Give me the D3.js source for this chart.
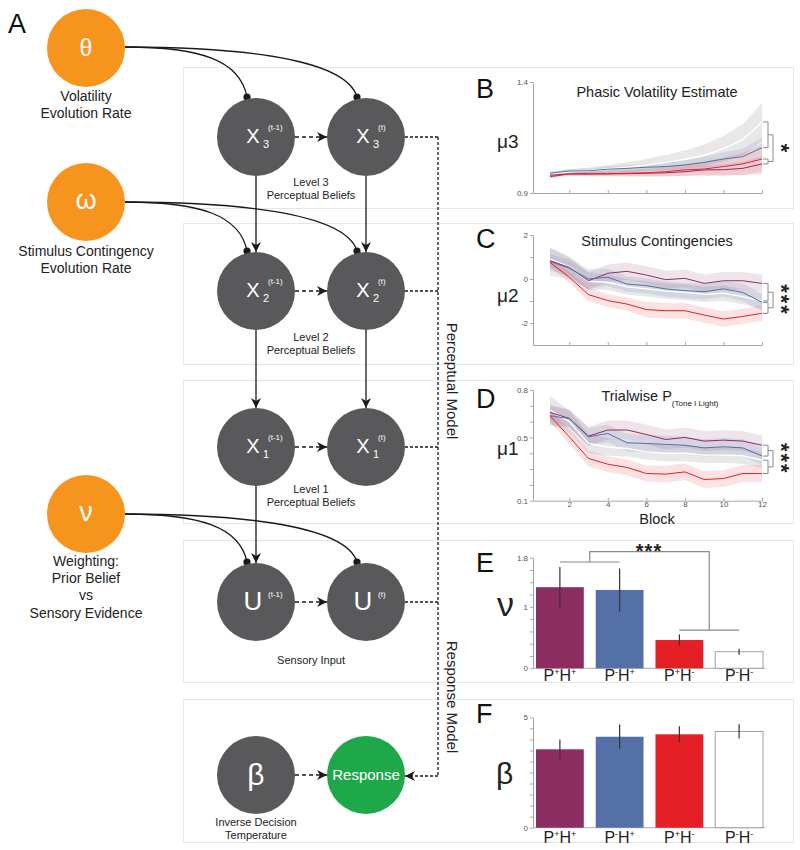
<!DOCTYPE html>
<html><head><meta charset="utf-8">
<script src="https://cdn.jsdelivr.net/npm/d3@7"></script>
<style>
body{margin:0;background:#fff}
svg{display:block}
text{font-family:"Liberation Sans",Arial,Helvetica,sans-serif}
</style>
</head><body>
<svg id="fig" width="800" height="850"></svg>
<script>
// ================= DATA =================
const blocks = [1,2,3,4,5,6,7,8,9,10,11,12];
const groups = ["P+H+","P-H+","P+H-","P-H-"];
const groupColors = ["#8c2d62","#5570a7","#e41f26","#ffffff"];
const bandColors  = ["#8c2d62","#5570a7","#e41f26","#b9b9b9"];
const bandOpacity = [0.13,0.15,0.13,0.32];

// Panel B: phasic volatility estimate (mu3)
const muB_PpHp = [0.980,0.986,0.986,0.986,0.987,0.989,0.991,0.996,1.004,1.005,1.011,1.031];
const muB_PmHp = [0.989,0.999,1.000,1.007,1.011,1.016,1.019,1.026,1.038,1.053,1.064,1.104];
const muB_PpHm = [0.973,0.986,0.986,0.987,0.989,0.991,0.996,1.004,1.008,1.019,1.031,1.053];
const muB_PmHm = [0.985,0.995,1.000,1.008,1.016,1.026,1.038,1.052,1.070,1.100,1.140,1.220];
const seB_PpHp = [0.008,0.008,0.009,0.010,0.012,0.014,0.016,0.018,0.021,0.025,0.030,0.035];
const seB_PmHp = [0.008,0.008,0.010,0.012,0.014,0.016,0.018,0.021,0.025,0.030,0.035,0.045];
const seB_PpHm = [0.008,0.008,0.010,0.012,0.015,0.018,0.022,0.027,0.033,0.040,0.050,0.070];
const seB_PmHm = [0.010,0.012,0.015,0.018,0.022,0.027,0.033,0.040,0.048,0.058,0.070,0.085];

// Panel C: stimulus contingencies (mu2)
const muC_PpHp = [0.83,0.53,-0.08,0.26,0.35,0.18,-0.03,0.03,-0.20,-0.08,-0.08,-0.20];
const muC_PmHp = [0.80,0.49,0.00,0.08,-0.23,-0.30,-0.45,-0.53,-0.58,-0.45,-0.61,-1.06];
const muC_PpHm = [0.76,0.08,-0.71,-0.98,-1.14,-1.39,-1.44,-1.44,-1.64,-1.82,-1.70,-1.56];
const muC_PmHm = [0.90,0.55,-0.10,-0.15,-0.35,-0.45,-0.55,-0.60,-0.70,-0.65,-0.80,-1.00];
const seC_PpHp = [0.30,0.35,0.40,0.40,0.40,0.40,0.40,0.40,0.40,0.40,0.40,0.40];
const seC_PmHp = [0.65,0.50,0.45,0.40,0.35,0.35,0.35,0.35,0.35,0.35,0.40,0.40];
const seC_PpHm = [0.20,0.25,0.30,0.30,0.30,0.35,0.35,0.35,0.35,0.35,0.35,0.35];
const seC_PmHm = [0.50,0.45,0.40,0.35,0.35,0.35,0.35,0.35,0.35,0.35,0.35,0.35];

// Panel D: trialwise P(Tone | Light) (mu1)
const muD_PpHp = [0.659,0.620,0.508,0.547,0.547,0.519,0.487,0.500,0.477,0.483,0.477,0.451];
const muD_PmHp = [0.637,0.620,0.504,0.525,0.466,0.462,0.456,0.451,0.434,0.441,0.434,0.382];
const muD_PpHm = [0.637,0.504,0.367,0.331,0.310,0.272,0.268,0.282,0.234,0.240,0.272,0.272];
const muD_PmHm = [0.673,0.600,0.462,0.440,0.430,0.409,0.400,0.400,0.388,0.388,0.384,0.356];
const seD_PpHp = [0.050,0.055,0.060,0.060,0.060,0.063,0.063,0.063,0.063,0.063,0.063,0.063];
const seD_PmHp = [0.060,0.055,0.055,0.055,0.055,0.055,0.055,0.055,0.055,0.055,0.055,0.055];
const seD_PpHm = [0.040,0.045,0.050,0.050,0.050,0.050,0.053,0.053,0.053,0.053,0.053,0.053];
const seD_PmHm = [0.090,0.070,0.060,0.055,0.050,0.050,0.050,0.050,0.050,0.050,0.050,0.050];

// Panel E: nu (weighting)
const nuMean = [1.32,1.275,0.46,0.27];
const nuSE   = [0.33,0.35,0.09,0.05];
const nuBracketLevels = [1.73,1.90,0.62];
// Panel F: beta
const betaMean = [3.55,4.12,4.23,4.36];
const betaSE   = [0.44,0.55,0.36,0.32];

// Tick values / labels
const xTicksBlock = [2,4,6,8,10,12];
const yTicksB = [0.9,1.4];            const yLabelsB = ["0.9","1.4"];
const yTicksC = [-2,-1,0,1,2];        const yLabelsC = ["-2","0","2"];
const yTicksD = [0.1,0.2,0.3,0.4,0.5,0.6,0.7,0.8]; const yLabelsD = ["0.1","0.5","0.8"];
const yTicksE = [0,0.2,0.4,0.6,0.8,1,1.2,1.4,1.6,1.8]; const yLabelsE = ["0","1","1.8"];
const yTicksF = [0,0.5,1,1.5,2,2.5,3,3.5,4,4.5,5]; const yLabelsF = ["0","5"];

// ================= DRAW =================
const svg = d3.select("#fig");
const defs = svg.append("defs");
defs.append("marker").attr("id","arr").attr("viewBox","0 0 10 10")
  .attr("refX",10).attr("refY",5).attr("markerWidth",11).attr("markerHeight",10)
  .attr("markerUnits","userSpaceOnUse").attr("orient","auto")
  .append("path").attr("d","M0,0 L10,5 L0,10 L3,5 Z").attr("fill","#1a1a1a");

// panel boxes
const boxes = [[67,208],[223,364],[380,523],[540,682],[699,842]];
svg.append("g").selectAll("rect").data(boxes).join("rect")
  .attr("x",183.5).attr("y",d=>d[0]+0.5).attr("width",610).attr("height",d=>d[1]-d[0])
  .attr("fill","none").attr("stroke","#e6e6e6").attr("stroke-width",1);

// ---------- Diagram ----------
const R = 39;
const colX = [256,366];
const rowY = {x3:137, x2:291, x1:447, u:602, r:775};
const orangeX = 86;
const orangeY = {theta:48, omega:202, nu:514};
const dark = "#59595b", orange = "#f7941e", green = "#1ea84a";
const dg = svg.append("g");

function influence(sy, ty) {
  const sx = orangeX + R;
  const t1 = colX[0]-9, t2 = colX[1]-9;
  dg.append("path").attr("d",`M${sx},${sy} C${sx+75},${sy} ${t1-7},${sy+13} ${t1},${ty}`)
    .attr("fill","none").attr("stroke","#1a1a1a").attr("stroke-width",1.3);
  dg.append("path").attr("d",`M${sx},${sy} C${sx+95},${sy} ${t2-12},${sy+8} ${t2},${ty}`)
    .attr("fill","none").attr("stroke","#1a1a1a").attr("stroke-width",1.3);
  [t1,t2].forEach(t=>dg.append("circle").attr("cx",t).attr("cy",ty).attr("r",3.6).attr("fill","#1a1a1a"));
}
influence(orangeY.theta-1, rowY.x3-R-1);
influence(orangeY.omega, rowY.x2-R-1);
influence(orangeY.nu, rowY.u-R-1);

const vArrows = [[0,"x3","x2"],[1,"x3","x2"],[0,"x2","x1"],[1,"x2","x1"],[0,"x1","u"]];
vArrows.forEach(([c,a,b])=>{
  dg.append("line").attr("x1",colX[c]).attr("x2",colX[c]).attr("y1",rowY[a]+R).attr("y2",rowY[b]-R)
    .attr("stroke","#1a1a1a").attr("stroke-width",1.3).attr("marker-end","url(#arr)");
});
["x3","x2","x1","u","r"].forEach(k=>{
  dg.append("line").attr("x1",colX[0]+R).attr("x2",colX[1]-R).attr("y1",rowY[k]).attr("y2",rowY[k])
    .attr("stroke","#1a1a1a").attr("stroke-width",1.3).attr("stroke-dasharray","4,3").attr("marker-end","url(#arr)");
});
const mx = 438;
["x3","x2","x1","u"].forEach(k=>{
  dg.append("line").attr("x1",colX[1]+R).attr("x2",mx).attr("y1",rowY[k]).attr("y2",rowY[k])
    .attr("stroke","#1a1a1a").attr("stroke-width",1.3).attr("stroke-dasharray","3,2");
});
dg.append("line").attr("x1",mx).attr("x2",mx).attr("y1",rowY.x3).attr("y2",rowY.r+1)
  .attr("stroke","#1a1a1a").attr("stroke-width",1.3).attr("stroke-dasharray","3,2");
dg.append("line").attr("x1",mx).attr("x2",colX[1]+R).attr("y1",rowY.r+1).attr("y2",rowY.r+1)
  .attr("stroke","#1a1a1a").attr("stroke-width",1.3).attr("stroke-dasharray","3,2").attr("marker-end","url(#arr)");

dg.append("text").attr("transform",`translate(447,381) rotate(90)`).attr("text-anchor","middle")
  .attr("font-size",15).attr("fill","#222").text("Perceptual Model");
dg.append("text").attr("transform",`translate(447,697) rotate(90)`).attr("text-anchor","middle")
  .attr("font-size",15).attr("fill","#222").text("Response Model");

function node(cx,cy,fill){ dg.append("circle").attr("cx",cx).attr("cy",cy).attr("r",R).attr("fill",fill); }
Object.values(orangeY).forEach(y=>node(orangeX,y,orange));
["x3","x2","x1","u"].forEach(k=>colX.forEach(x=>node(x,rowY[k],dark)));
node(colX[0],rowY.r,dark); node(colX[1],rowY.r,green);

function xLabel(cx,cy,main,sub,sup){
  dg.append("text").attr("x",cx-3).attr("y",cy+6).attr("text-anchor","middle").attr("font-size",main==="U"?26:20)
    .attr("fill","#fff").text(main);
  if(sub) dg.append("text").attr("x",cx+7).attr("y",cy+11).attr("text-anchor","start").attr("font-size",11).attr("fill","#fff").text(sub);
  dg.append("text").attr("x",cx+12).attr("y",cy-7).attr("text-anchor","start").attr("font-size",8).attr("fill","#fff").text(sup);
}
[["x3","3"],["x2","2"],["x1","1"]].forEach(([k,s])=>{
  xLabel(colX[0],rowY[k],"X",s,"(t-1)");
  xLabel(colX[1],rowY[k],"X",s,"(t)");
});
xLabel(colX[0],rowY.u+2,"U",null,"(t-1)");
xLabel(colX[1],rowY.u+2,"U",null,"(t)");
dg.append("text").attr("x",colX[0]).attr("y",rowY.r+10).attr("text-anchor","middle").attr("font-size",30).attr("fill","#fff").text("β");
dg.append("text").attr("x",colX[1]).attr("y",rowY.r+5).attr("text-anchor","middle").attr("font-size",15).attr("fill","#fff").text("Response");
dg.append("text").attr("x",orangeX).attr("y",orangeY.theta+8).attr("text-anchor","middle").attr("font-size",23).attr("fill","#fff").text("θ");
dg.append("text").attr("x",orangeX).attr("y",orangeY.omega+7).attr("text-anchor","middle").attr("font-size",27)
  .attr("font-family","'Liberation Serif',serif").attr("fill","#fff").text("ω");
dg.append("text").attr("x",orangeX).attr("y",orangeY.nu+7).attr("text-anchor","middle").attr("font-size",27)
  .attr("font-family","'Liberation Serif',serif").attr("fill","#fff").text("ν");

function lines(x,ys,arr,size){
  arr.forEach((t,i)=>dg.append("text").attr("x",x).attr("y",ys[i]).attr("text-anchor","middle")
    .attr("font-size",size).attr("fill","#222").text(t));
}
lines(orangeX,[101,118],["Volatility","Evolution Rate"],14);
lines(orangeX,[256,273],["Stimulus Contingency","Evolution Rate"],14);
lines(orangeX,[566,583,600,618],["Weighting:","Prior Belief","vs","Sensory Evidence"],14);
lines(311,[186,199],["Level 3","Perceptual Beliefs"],11);
lines(311,[341,354],["Level 2","Perceptual Beliefs"],11);
lines(311,[493,506],["Level 1","Perceptual Beliefs"],11);
lines(311,[664],["Sensory Input"],11);
lines(colX[0],[826,839],["Inverse Decision","Temperature"],11);

[["A",8,33],["B",476,98],["C",476,248],["D",476,408],["E",476,572],["F",476,723]].forEach(([t,x,y])=>{
  svg.append("text").attr("x",x).attr("y",y).attr("font-size",27).attr("fill","#111").text(t);
});

// ---------- Line panels ----------
const xLine = d3.scaleLinear().domain([0.12,12]).range([533,762]);
function styleAxis(g){
  g.selectAll(".domain").attr("stroke","#a8a8a8");
  g.selectAll(".tick line").attr("stroke","#a8a8a8");
  g.selectAll(".tick text").attr("font-size",8).attr("fill","#555")
    .attr("font-family","'Liberation Sans',Arial,sans-serif");
}
function starStack(g, cx, cy, n){
  const fs = 22;
  g.append("text").attr("transform",`translate(${cx - 0.45*fs},${cy}) rotate(90)`)
    .attr("text-anchor","middle").attr("font-size",fs).attr("font-weight","bold")
    .attr("letter-spacing",n>1?2:0).attr("fill","#222").text("*".repeat(n));
}
function linePanel(cfg){
  const y = d3.scaleLinear().domain(cfg.yDomain).range(cfg.yRange);
  const g = svg.append("g");
  const fmtMap = new Map(cfg.yTicks.map(v=>[v,""]));
  cfg.yLabels.forEach(l=>fmtMap.set(+l,l));
  g.append("g").attr("transform",`translate(533,0)`)
    .call(d3.axisLeft(y).tickValues(cfg.yTicks).tickSize(3).tickSizeOuter(0).tickPadding(2).tickFormat(d=>fmtMap.get(d)||""))
    .call(styleAxis);
  g.append("g").attr("transform",`translate(0,${cfg.yRange[0]})`)
    .call(d3.axisBottom(xLine).tickValues(xTicksBlock).tickSize(-3).tickSizeOuter(0).tickPadding(1)
      .tickFormat(cfg.xLabels ? d=>String(d) : ()=>""))
    .call(styleAxis);
  const order = [3,0,1,2];
  order.forEach(i=>{
    const area = d3.area().x((d,j)=>xLine(blocks[j])).y0((d,j)=>y(cfg.means[i][j]-cfg.ses[i][j])).y1((d,j)=>y(cfg.means[i][j]+cfg.ses[i][j]));
    g.append("path").attr("d",area(cfg.means[i])).attr("fill",bandColors[i]).attr("fill-opacity",bandOpacity[i]);
  });
  order.forEach(i=>{
    const line = d3.line().x((d,j)=>xLine(blocks[j])).y(d=>y(d));
    g.append("path").attr("d",line(cfg.means[i])).attr("fill","none").attr("stroke",groupColors[i])
      .attr("stroke-width",i===3?1.4:1);
  });
  const ends = cfg.means.map(m=>y(m[m.length-1])).sort((a,b)=>a-b);
  const x0 = xLine(12)+1, x1 = x0+5, x2 = x0+10;
  const bs = "#8a8a8a";
  const L = (a,b,c,d)=>g.append("line").attr("x1",a).attr("y1",b).attr("x2",c).attr("y2",d).attr("stroke",bs).attr("stroke-width",1);
  ends.forEach(e=>L(x0,e,x1,e));
  L(x1,ends[0],x1,ends[1]); L(x1,ends[2],x1,ends[3]);
  const mA=(ends[0]+ends[1])/2, mB=(ends[2]+ends[3])/2;
  L(x1,mA,x2,mA); L(x1,mB,x2,mB); L(x2,mA,x2,mB);
  starStack(g, 784, (mA+mB)/2, cfg.stars);
  if(cfg.title) g.append("text").attr("x",657).attr("y",cfg.titleY).attr("text-anchor","middle").attr("font-size",14.5).attr("fill","#222").text(cfg.title);
  g.append("text").attr("x",497).attr("y",cfg.labY).attr("font-size",19).attr("fill","#222").text(cfg.yLab);
  return g;
}
linePanel({yDomain:[0.9,1.4], yRange:[193,82], yTicks:yTicksB, yLabels:yLabelsB,
  means:[muB_PpHp,muB_PmHp,muB_PpHm,muB_PmHm], ses:[seB_PpHp,seB_PmHp,seB_PpHm,seB_PmHm],
  stars:1, title:"Phasic Volatility Estimate", titleY:97, yLab:"μ3", labY:148});
linePanel({yDomain:[-3,2], yRange:[345,235], yTicks:yTicksC, yLabels:yLabelsC,
  means:[muC_PpHp,muC_PmHp,muC_PpHm,muC_PmHm], ses:[seC_PpHp,seC_PmHp,seC_PpHm,seC_PmHm],
  stars:3, title:"Stimulus Contingencies", titleY:246, yLab:"μ2", labY:302});
const gD = linePanel({yDomain:[0.1,0.8], yRange:[500.7,390], yTicks:yTicksD, yLabels:yLabelsD,
  means:[muD_PpHp,muD_PmHp,muD_PpHm,muD_PmHm], ses:[seD_PpHp,seD_PmHp,seD_PpHm,seD_PmHm],
  stars:3, title:null, yLab:"μ1", labY:455, xLabels:true});
const tD = gD.append("text").attr("x",660).attr("y",401).attr("text-anchor","middle").attr("fill","#222");
tD.append("tspan").attr("font-size",14.5).text("Trialwise P");
tD.append("tspan").attr("font-size",8).attr("dy",5).text("(Tone I Light)");
gD.append("text").attr("x",657).attr("y",524).attr("text-anchor","middle").attr("font-size",14.5).attr("fill","#222").text("Block");

// ---------- Bar panels ----------
const xBar = d3.scaleBand().domain(groups).range([536,763]).paddingInner(0.2).paddingOuter(0);
function catLabel(g, yBase){
  groups.forEach(gr=>{
    const t = g.append("text").attr("x",xBar(gr)+xBar.bandwidth()/2).attr("y",yBase).attr("text-anchor","middle").attr("fill","#222");
    t.append("tspan").attr("font-size",16).text("P");
    t.append("tspan").attr("font-size",9).attr("dy",-6).text(gr[1]);
    t.append("tspan").attr("font-size",16).attr("dy",6).text("H");
    t.append("tspan").attr("font-size",9).attr("dy",-6).text(gr[3]);
  });
}
function barPanel(cfg){
  const y = d3.scaleLinear().domain(cfg.yDomain).range(cfg.yRange);
  const g = svg.append("g");
  const fmtMap = new Map();
  cfg.yLabels.forEach(l=>fmtMap.set(+l,l));
  g.append("g").attr("transform","translate(533,0)")
    .call(d3.axisLeft(y).tickValues(cfg.yTicks).tickSize(3).tickSizeOuter(0).tickPadding(2).tickFormat(d=>fmtMap.get(d)||""))
    .call(styleAxis);
  g.append("line").attr("x1",533).attr("x2",765).attr("y1",cfg.yRange[0]).attr("y2",cfg.yRange[0]).attr("stroke","#a8a8a8");
  g.selectAll("rect.bar").data(cfg.vals).join("rect")
    .attr("x",(d,i)=>xBar(groups[i])).attr("width",xBar.bandwidth())
    .attr("y",d=>y(d)).attr("height",d=>y(0)-y(d))
    .attr("fill",(d,i)=>groupColors[i]).attr("stroke",(d,i)=>i===3?"#a0a0a0":"none").attr("stroke-width",1);
  g.selectAll("line.err").data(cfg.vals).join("line")
    .attr("x1",(d,i)=>xBar(groups[i])+xBar.bandwidth()/2).attr("x2",(d,i)=>xBar(groups[i])+xBar.bandwidth()/2)
    .attr("y1",(d,i)=>y(d-cfg.se[i])).attr("y2",(d,i)=>y(d+cfg.se[i])).attr("stroke","#333").attr("stroke-width",1.2);
  g.append("text").attr("x",cfg.labX).attr("y",cfg.labY).attr("font-size",cfg.labSize).attr("font-family",cfg.labFont).attr("fill","#222").text(cfg.yLab);
  catLabel(g, cfg.catY);
  return {g,y};
}
const E = barPanel({yDomain:[0,1.8], yRange:[668.3,557.7], yTicks:yTicksE, yLabels:yLabelsE, vals:nuMean, se:nuSE,
  yLab:"ν", labX:497, labY:616, labSize:34, labFont:"'Liberation Serif',serif", catY:681});
barPanel({yDomain:[0,5], yRange:[827.7,717.3], yTicks:yTicksF, yLabels:yLabelsF, vals:betaMean, se:betaSE,
  yLab:"β", labX:496, labY:784, labSize:30, labFont:"'Liberation Sans',sans-serif", catY:843});

(function(){
  const {g,y} = E;
  const c = groups.map(gr=>xBar(gr)+xBar.bandwidth()/2);
  const [lv1, top, lv2] = nuBracketLevels.map(v=>y(v));
  const cl=(c[0]+c[1])/2, cr=(c[2]+c[3])/2;
  const pth = `M${c[0]},${lv1} H${c[1]} M${cl},${lv1} V${top} H${cr} V${lv2} M${c[2]},${lv2} H${c[3]}`;
  g.append("path").attr("d",pth).attr("fill","none").attr("stroke","#8a8a8a").attr("stroke-width",1.2);
  g.append("text").attr("x",649).attr("y",558).attr("text-anchor","middle").attr("font-size",20).attr("font-weight","bold")
    .attr("letter-spacing",1).attr("fill","#222").text("***");
})();
</script>
</body></html>
